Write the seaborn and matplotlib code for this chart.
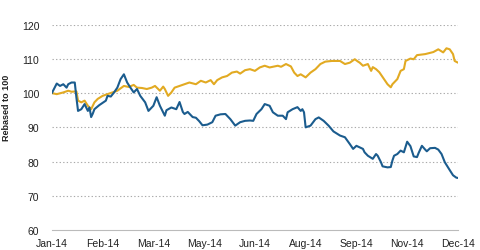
import matplotlib
matplotlib.use("Agg")
import matplotlib.pyplot as plt
import seaborn as sns
import pandas as pd

# trading-day index (0 = 2 Jan 2014) and rebased values
blue_day = [0, 3, 5, 7, 9, 10, 12, 14, 15, 16, 18, 20, 22, 23, 24, 25, 26, 29, 33, 34, 36, 38, 40, 42, 44,
            46, 48, 50, 52, 54, 57, 59, 62, 64, 66, 69, 70, 73, 76, 78, 80, 81, 83, 86, 88, 90, 92, 95, 98,
            100, 103, 106, 109, 112, 115, 118, 121, 123, 125, 128, 130, 133, 135, 138, 141, 143, 144, 147,
            150, 152, 153, 154, 155, 158, 161, 163, 166, 169, 172, 176, 179, 182, 184, 186, 190, 191, 193,
            196, 198, 199, 201, 202, 205, 207, 208, 209, 211, 213, 215, 217, 219, 221, 223, 224, 226, 228,
            229, 231, 234, 236, 238, 240, 243, 245, 247, 248]
blue_val = [100, 102.8, 102.1, 102.6, 101.6, 102.6, 103.1, 103.1, 98.7, 94.8, 95.3, 96.8, 94.8, 95.8, 93.0,
            94.0, 95.3, 96.5, 97.8, 99.2, 99.0, 100.2, 101.6, 104.1, 105.5, 103.1, 101.6, 100.2, 101.2, 99.2,
            97.3, 94.8, 96.3, 98.8, 96.3, 93.4, 95.0, 95.8, 95.3, 97.4, 94.5, 93.9, 94.5, 93.0, 92.8, 91.8,
            90.6, 90.8, 91.5, 93.4, 93.8, 93.9, 92.4, 90.5, 91.5, 91.9, 92.0, 91.9, 93.9, 95.3, 96.8, 96.3,
            94.4, 93.4, 93.4, 92.4, 94.4, 95.3, 95.9, 94.8, 95.3, 94.4, 90.0, 90.5, 92.4, 92.9, 91.9, 90.5,
            88.8, 87.6, 87.1, 85.1, 83.7, 84.6, 83.7, 82.7, 81.7, 80.8, 82.2, 81.7, 79.8, 78.6, 78.3, 78.4,
            80.3, 81.7, 82.2, 83.2, 82.7, 85.8, 84.5, 81.5, 81.3, 82.5, 84.6, 83.5, 83.0, 83.9, 84.0, 83.5,
            82.2, 79.8, 77.5, 76.0, 75.3, 75.2]

gold_day = [0, 3, 7, 10, 12, 15, 16, 18, 20, 22, 24, 26, 28, 31, 34, 37, 40, 44, 47, 50, 52, 55, 58, 61,
            63, 66, 68, 69, 71, 73, 75, 78, 81, 84, 88, 91, 94, 97, 99, 101, 104, 107, 110, 113, 115, 118,
            121, 124, 127, 130, 133, 138, 140, 143, 146, 148, 150, 152, 155, 158, 161, 164, 167, 171, 176,
            179, 182, 185, 187, 188, 190, 193, 195, 196, 198, 200, 202, 205, 207, 208, 211, 213, 215, 216,
            219, 221, 223, 228, 233, 236, 239, 241, 243, 245, 246, 248]
gold_val = [100, 99.7, 100.2, 100.7, 100.4, 100.5, 97.8, 97.3, 97.8, 96.3, 95.3, 97.3, 98.3, 99.2, 99.7,
            100.2, 100.7, 102.1, 101.8, 102.4, 101.6, 101.5, 101.2, 101.6, 102.1, 100.7, 101.9, 101.2, 99.2,
            100.2, 101.6, 102.1, 102.6, 103.1, 102.6, 103.6, 103.1, 103.8, 102.6, 103.8, 104.6, 105.0, 106.0,
            106.3, 105.7, 106.7, 107.0, 106.5, 107.5, 108.0, 107.5, 108.0, 107.7, 108.5, 107.8, 106.0, 105.0,
            105.5, 104.6, 106.0, 107.0, 108.5, 109.2, 109.4, 109.4, 108.5, 108.9, 109.9, 109.2, 108.9, 108.0,
            108.5, 106.5, 107.6, 107.0, 106.1, 104.7, 102.6, 101.7, 102.6, 104.1, 106.5, 107.0, 109.4, 110.1,
            109.9, 111.1, 111.4, 112.0, 112.8, 111.9, 113.1, 112.8, 111.4, 109.4, 108.9]

tick_days = [0, 31, 62, 93, 124, 155, 186, 217, 248]
tick_labels = ["Jan-14", "Feb-14", "Mar-14", "May-14", "Jun-14", "Aug-14", "Sep-14", "Nov-14", "Dec-14"]
y_ticks = [60, 70, 80, 90, 100, 110, 120]

df = pd.concat([
    pd.DataFrame({"day": gold_day, "value": gold_val, "series": "gold"}),
    pd.DataFrame({"day": blue_day, "value": blue_val, "series": "blue"}),
])

sns.set_style("white")
plt.rcParams["font.family"] = ["Liberation Sans", "DejaVu Sans"]

fig = plt.figure(figsize=(4.8, 2.51), dpi=100)
ax = fig.add_axes([0.108, 0.0797, 0.846, 0.818])

sns.lineplot(data=df, x="day", y="value", hue="series",
             palette={"gold": "#E2AA22", "blue": "#1B5C8E"},
             linewidth=1.5, legend=False, ax=ax, sort=False)

ax.set_xlim(0, 248)
ax.set_ylim(60, 120)
ax.set_yticks(y_ticks)
ax.set_xticks(tick_days)
ax.set_xticklabels(tick_labels)
ax.tick_params(axis="y", length=0, labelsize=7.5, pad=9, colors="#222222")
ax.tick_params(axis="x", length=3, width=0.8, color="#bbbbbb", labelsize=7.5, pad=3, colors="#222222")
ax.tick_params(axis="x", color="#bbbbbb")

for v in y_ticks[1:]:
    ax.axhline(v, color="#aaaaaa", linewidth=0.8, linestyle=(0, (1.2, 2)), zorder=0)

for s in ["top", "right", "left"]:
    ax.spines[s].set_visible(False)
ax.spines["bottom"].set_color("#bbbbbb")
ax.spines["bottom"].set_linewidth(0.8)

ax.set_xlabel("")
ax.set_ylabel("Rebased to 100", fontsize=6.5, fontweight="bold", color="#222222")
ax.yaxis.set_label_coords(-0.1, 0.6)

fig.savefig("out.png", dpi=100)
